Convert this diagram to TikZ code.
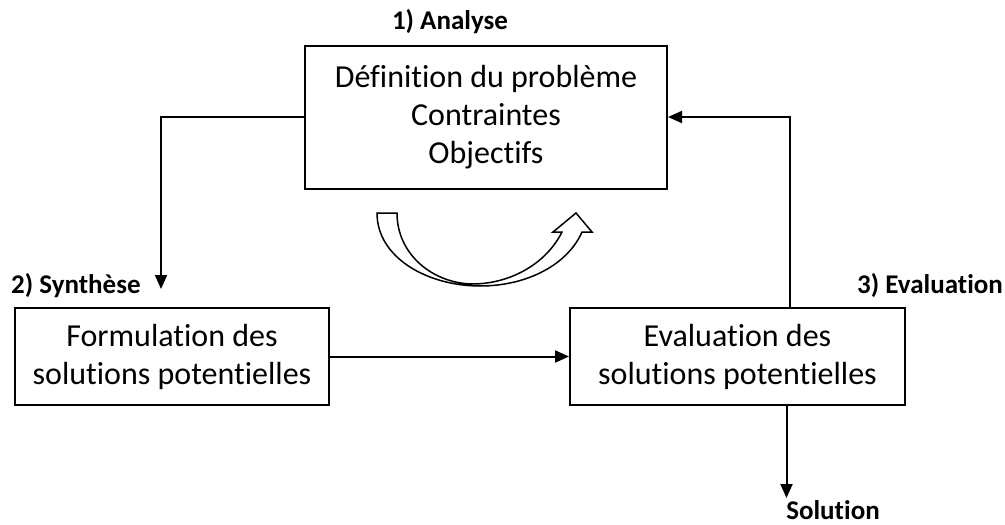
\documentclass[tikz,border=0pt]{standalone}
\usepackage{fontspec}
\setmainfont{Carlito}[Ligatures=NoCommon]
\usetikzlibrary{arrows.meta,calc}
\begin{document}
\begin{tikzpicture}[x=1pt,y=-1pt,
  stagebox/.style={draw,line width=2pt,align=center,inner sep=0pt,
    font=\fontsize{32}{38}\selectfont},
  tag/.style={font=\fontsize{27}{32}\selectfont\bfseries,inner sep=0pt},
  arr/.style={line width=2pt,-{Triangle[length=14pt,width=12pt]}}]
\useasboundingbox (0,0) rectangle (1005,525);

% the three stages
\node[stagebox,minimum width=362pt,minimum height=143pt] (A) at (486,117)
  {Définition du problème\\Contraintes\\Objectifs};
\node[stagebox,minimum width=314pt,minimum height=97pt] (B) at (172,356.5)
  {Formulation des\\solutions potentielles};
\node[stagebox,minimum width=335pt,minimum height=97pt] (C) at (737.5,356.5)
  {Evaluation des\\solutions potentielles};

% stage labels
\node[tag] (tA) at (450,22) {1) Analyse};
\node[tag,anchor=west] (tB) at (11,286) {2) Synthèse};
\node[tag,anchor=east] (tC) at (1003,286) {3) Evaluation};
\node[tag,anchor=base] (tS) at (833,519) {Solution};

% connector end points
\coordinate (synthTip) at (161,289);
\coordinate (evalTop) at ($(C.north)+(52,0)$);
\coordinate (solTop) at ($(C.south)+(49,0)$);
\coordinate (solTip) at ($(solTop)+(0,92)$);

% connectors
\draw[arr] (A.west) -| (synthTip);
\draw[arr] (evalTop) |- (A.east);
\draw[arr] (B.east) -- (C.west);
\draw[arr] (solTop) -- (solTip);

% hollow curved arrow under the analysis box
\draw[line width=1.5pt,line join=miter,fill=white]
  (377,213)
  .. controls (377,258) and (428,286) .. (480,286)
  .. controls (528,286) and (568,264) .. (582,232)
  -- (592,232) -- (576,213) -- (553,232) -- (562,232)
  .. controls (546,264) and (510,284) .. (472,284)
  .. controls (432,283) and (397,254) .. (397,213)
  -- cycle;
\end{tikzpicture}
\end{document}
